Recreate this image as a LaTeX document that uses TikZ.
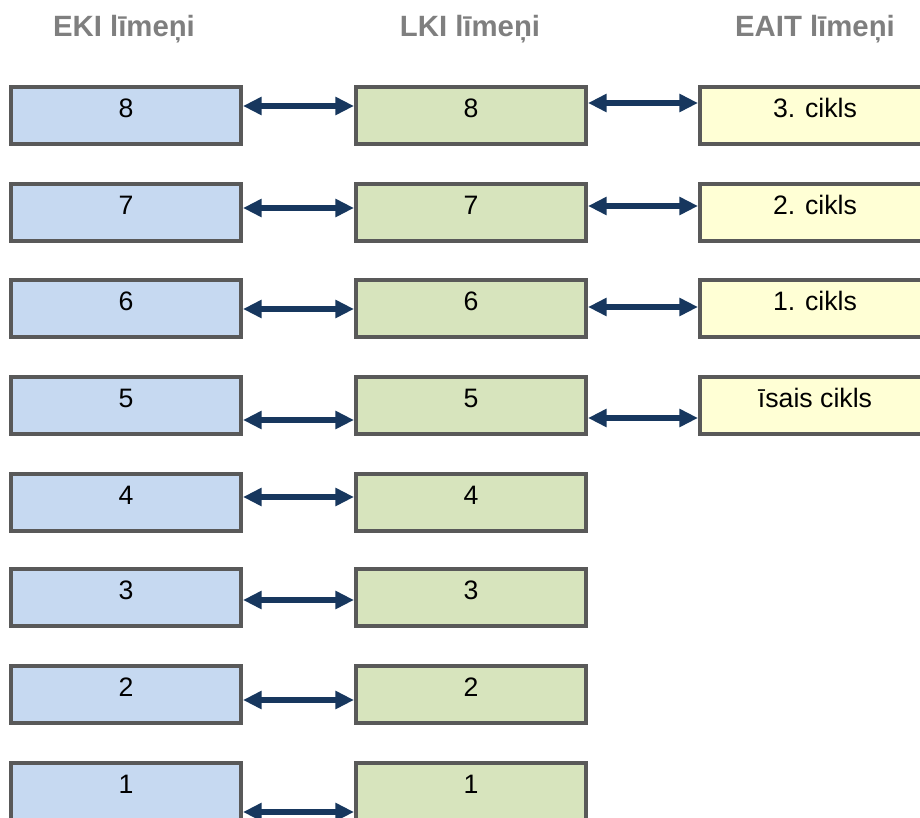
\documentclass[tikz,border=0pt]{standalone}
\usepackage{fontspec}
\setmainfont{Liberation Sans}
\usetikzlibrary{arrows.meta}
\definecolor{bordergray}{HTML}{595959}
\definecolor{ekiblue}{HTML}{C6D9F1}
\definecolor{lkigreen}{HTML}{D7E4BD}
\definecolor{eaityellow}{HTML}{FFFFD5}
\definecolor{arrowblue}{HTML}{17375E}
\definecolor{headgray}{HTML}{7F7F7F}
\begin{document}
\begin{tikzpicture}[x=0.75pt,y=-0.75pt,
  lvl/.style={draw=bordergray, line width=3pt, minimum width=172.5pt,
    inner xsep=0pt, inner ysep=0pt, text height=22.5pt, text depth=20.25pt,
    font=\fontsize{20}{24}\selectfont, text=black, anchor=north},
  eki/.style={lvl, fill=ekiblue},
  lki/.style={lvl, fill=lkigreen},
  eait/.style={lvl, fill=eaityellow},
  biarrow/.style={draw=arrowblue, line width=5pt,
    {Triangle[length=14pt,width=13pt]}-{Triangle[length=14pt,width=13pt]}},
  head/.style={font=\fontsize{22}{26}\selectfont\bfseries, text=headgray, anchor=base}]
\clip (0,0) rectangle (920,817);
\node[head] (h1) at (124,37) {EKI līmeņi};
\node[head] (h2) at (470,37) {LKI līmeņi};
\node[head] (h3) at (815,37) {EAIT līmeņi};
\foreach \n/\t/\a in {8/85/106, 7/182/208, 6/278/309, 5/375/420, 4/472/497, 3/567/600, 2/664/700, 1/761/812}{
  \node[eki] (l\n) at (126,\t) {\n};
  \node[lki] (m\n) at (471,\t) {\n};
  \draw[biarrow] (l\n.east |- 0,\a) -- (m\n.west |- 0,\a);
}
\foreach \n/\t/\a/\txt in {8/85/103/{3. cikls}, 7/182/206/{2. cikls}, 6/278/307/{1. cikls}, 5/375/418/{īsais cikls}}{
  \node[eait] (e\n) at (815,\t) {\txt};
  \draw[biarrow] (m\n.east |- 0,\a) -- (e\n.west |- 0,\a);
}
\end{tikzpicture}
\end{document}
